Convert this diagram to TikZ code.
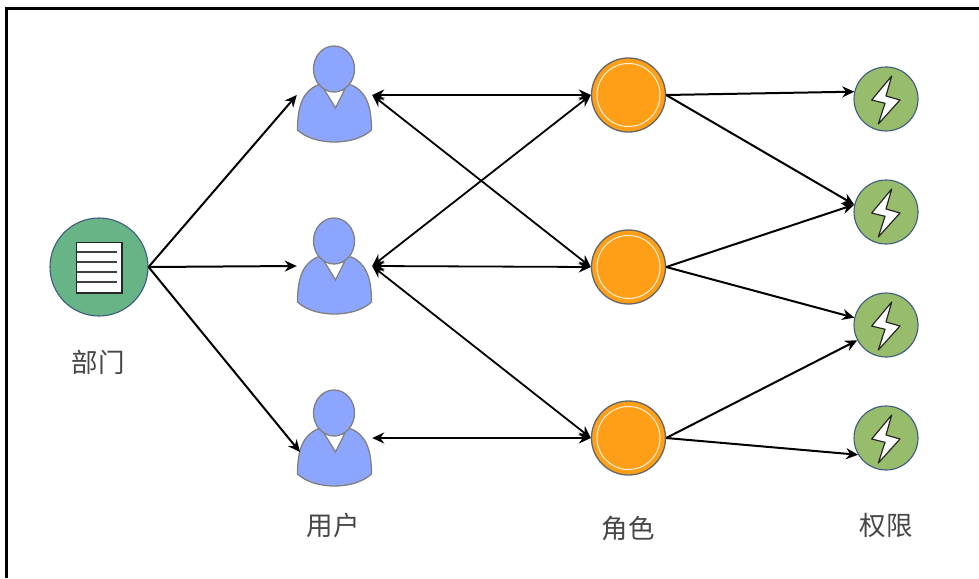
\documentclass[tikz,border=0pt]{standalone}
\usepackage{fontspec}
\setmainfont{Noto Sans CJK SC}
\usetikzlibrary{arrows.meta}
\definecolor{deptgreen}{HTML}{67B587}
\definecolor{permgreen}{HTML}{97BD6C}
\definecolor{roleorange}{HTML}{FF9F17}
\definecolor{userblue}{HTML}{8CA6FF}
\definecolor{edgeblue}{HTML}{3F5A80}
\tikzset{
  x=1pt,y=-1pt,
  deptnode/.style={circle,draw=edgeblue,line width=1.1pt,fill=deptgreen,minimum size=98pt,inner sep=0pt},
  rolenode/.style={circle,draw=black!60,line width=1.3pt,fill=roleorange,minimum size=74pt,inner sep=0pt},
  permnode/.style={circle,draw=edgeblue,line width=1.1pt,fill=permgreen,minimum size=64pt,inner sep=0pt},
  usernode/.style={rectangle,minimum width=75pt,minimum height=96pt,inner sep=0pt},
  lbl/.style={text=black!72,font=\fontsize{26.5}{30}\selectfont,inner sep=0pt},
  onearrow/.style={line width=2pt,draw=black,-{Stealth[length=12pt,width=11pt]}},
  bothway/.style={line width=1.8pt,draw=black,{Stealth[length=12pt,width=11pt]}-{Stealth[length=12pt,width=11pt]}},
  figline/.style={draw=black!50,line width=1.3pt},
  pics/person/.style={code={
    \draw[figline,fill=userblue] (-17,-10) .. controls (-30,-4) and (-37,8) .. (-37,35)
      .. controls (-20,51) and (20,51) .. (37,35)
      .. controls (37,8) and (30,-4) .. (17,-10) -- cycle;
    \draw[figline,fill=white] (-10,-5) -- (1,13) -- (10,-5) -- cycle;
    \draw[figline,fill=userblue] (-0.5,-26) ellipse [x radius=20.5,y radius=23];
  }},
  pics/bolt/.style={code={
    \draw[line width=1.2pt,draw=black!85,fill=white,line join=round]
      (5.7,-23) -- (-14.3,1) -- (-1,4.3) -- (-7.7,25) -- (14,1) -- (0,-3) -- cycle;
  }}
}
\begin{document}
\begin{tikzpicture}
\useasboundingbox (0,0) rectangle (979,578);
\fill[white] (0,0) rectangle (979,578);
\coordinate (frameA) at (979,8.5);
\coordinate (frameB) at (6.5,8.5);
\coordinate (frameC) at (6.5,578);
\draw[line width=3.2pt,black] (frameA) -- (frameB) -- (frameC);

% department
\node[deptnode] (d) at (99,267) {};
\draw[line width=1.1pt,draw=black!85,fill=white] (76.5,242.5) rectangle (122,293);
\foreach \yy in {252,262,272,282}{\draw[line width=1.2pt,black!75] (77,\yy) -- (117,\yy);}
\node[lbl] (ldept) at (98,362) {部门};

% users
\node[usernode] (u1) at (334.5,95) {};
\node[usernode] (u2) at (334.5,266) {};
\node[usernode] (u3) at (334.5,438) {};
\pic at (334.5,95) {person};
\pic at (334.5,267) {person};
\pic at (334.5,439) {person};
\coordinate (u3in) at (300,452);
\node[lbl] (luser) at (333,525) {用户};

% roles
\foreach \nm/\yy in {r1/95,r2/267,r3/438}{
  \node[rolenode] (\nm) at (628.5,\yy) {};
  \draw[white!85!roleorange,line width=1pt] (\nm) circle [radius=31.5];
}
\node[lbl] (lrole) at (628,528) {角色};

% permissions
\foreach \nm/\yy in {p1/99,p2/212,p3/325,p4/438}{
  \node[permnode] (\nm) at (886,\yy) {};
  \pic at (\nm) {bolt};
}
\node[lbl] (lperm) at (886,525) {权限};

% connectors
\draw[onearrow] (d.east) -- (u1.west);
\draw[onearrow] (d.east) -- (u2.west);
\draw[onearrow] (d.east) -- (u3in);

\draw[bothway] (u1.east) -- (r1.west);
\draw[bothway] (u1.east) -- (r2.west);
\draw[bothway] (u2.east) -- (r1.west);
\draw[bothway] (u2.east) -- (r2.west);
\draw[bothway] (u2.east) -- (r3.west);
\draw[bothway] (u3.east) -- (r3.west);

\draw[onearrow] (r1.east) -- (p1.167);
\draw[onearrow] (r1.east) -- (p2.167);
\draw[onearrow] (r2.east) -- (p2.167);
\draw[onearrow] (r2.east) -- (p3.167);
\draw[onearrow] (r3.east) -- (p3.208);
\draw[onearrow] (r3.east) -- (p4.211);
\end{tikzpicture}
\end{document}
